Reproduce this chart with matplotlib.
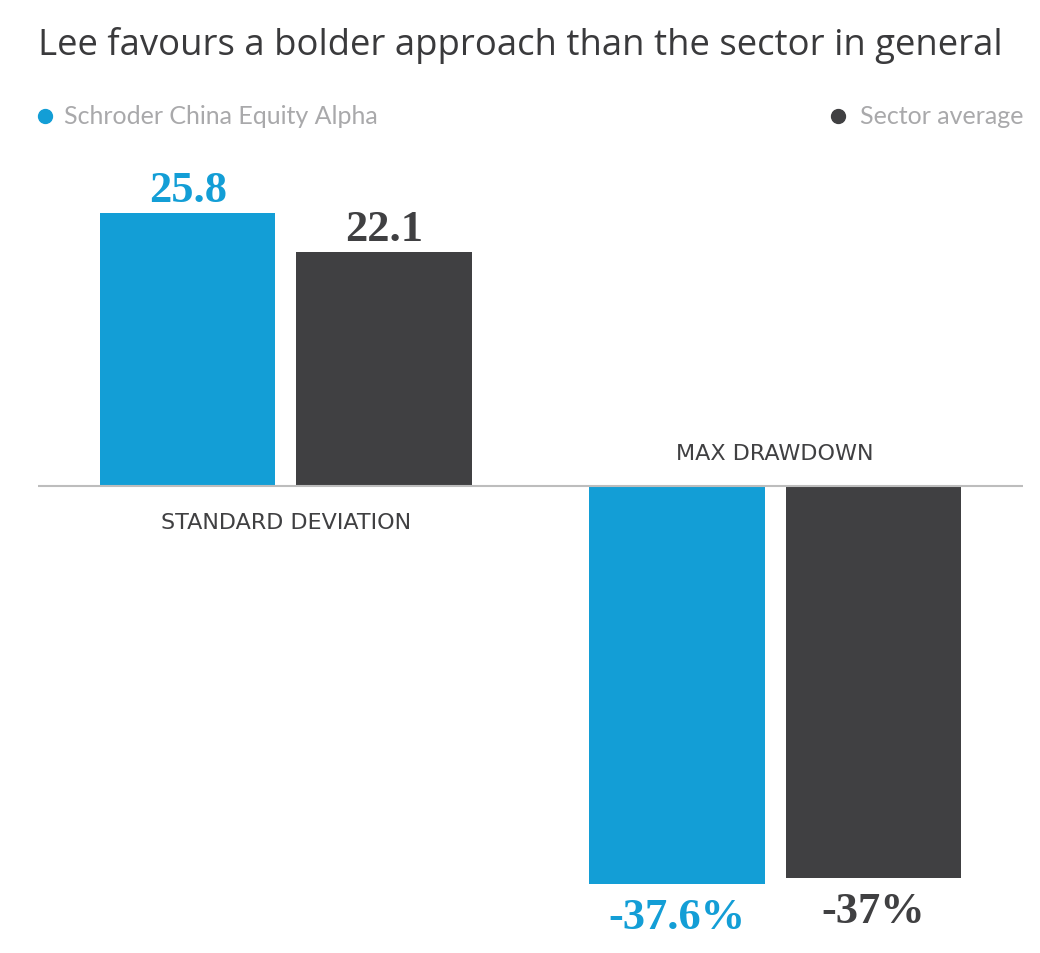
import matplotlib
matplotlib.use("Agg")
import matplotlib.pyplot as plt
import numpy as np

# Data
categories = ["STANDARD DEVIATION", "MAX DRAWDOWN"]
series_names = ["Schroder China Equity Alpha", "Sector average"]
fund_values = [25.8, -37.6]
sector_values = [22.1, -37.0]
fund_labels = ["25.8", "-37.6%"]
sector_labels = ["22.1", "-37%"]

BLUE = "#139ed6"
DARK = "#404042"
TEXT = "#3a3a3c"
GREY = "#a9a9ab"

fig = plt.figure(figsize=(10.4, 9.54), dpi=100)
ax = fig.add_axes([38 / 1040, 14 / 954, 985 / 1040, 800 / 954])

x = np.arange(len(categories))
width = 0.358
offset = 0.2004

bars_fund = ax.bar(x - offset, fund_values, width, color=BLUE)
bars_sector = ax.bar(x + offset, sector_values, width, color=DARK)

ax.set_xlim(-0.507, 1.507)
ax.set_ylim(-42.8, 32.8)
ax.axhline(0, color="#bdbdbd", linewidth=1.5, zorder=3)
ax.axis("off")

# value labels
for bars, labels, col in [(bars_fund, fund_labels, BLUE), (bars_sector, sector_labels, DARK)]:
    for b, lab in zip(bars, labels):
        h = b.get_height()
        xc = b.get_x() + b.get_width() / 2
        dy = 8.5 if h >= 0 else -32
        ax.annotate(lab, (xc, h), xytext=(0, dy), textcoords="offset points",
                    ha="center", va="baseline", fontsize=32, fontweight="bold",
                    family="Liberation Serif", color=col)

# category labels
for xi, cat, v in zip(x, categories, fund_values):
    dy = -25.5 if v >= 0 else 24
    ax.annotate(cat, (xi, 0), xytext=(0, dy), textcoords="offset points",
                ha="center", va="center", fontsize=16, family="DejaVu Sans",
                color=DARK)

# title
fig.text(38 / 1040, 1 - 46 / 954, "Lee favours a bolder approach than the sector in general",
         ha="left", va="center", fontsize=26.3, fontweight="medium",
         family="Open Sans", color=TEXT)

# legend
fig.text(64 / 1040, 1 - 117 / 954, series_names[0], ha="left", va="center",
         fontsize=18, family="Lato", color=GREY)
fig.text(1023 / 1040, 1 - 117 / 954, series_names[1], ha="right", va="center",
         fontsize=18, family="Lato", color=GREY)
fig.lines.append(plt.Line2D([45 / 1040], [1 - 117 / 954], marker="o", markersize=10,
                            color=BLUE, transform=fig.transFigure))
fig.lines.append(plt.Line2D([838 / 1040], [1 - 117 / 954], marker="o", markersize=10,
                            color=DARK, transform=fig.transFigure))

fig.savefig("out.png", dpi=100, facecolor="white")
